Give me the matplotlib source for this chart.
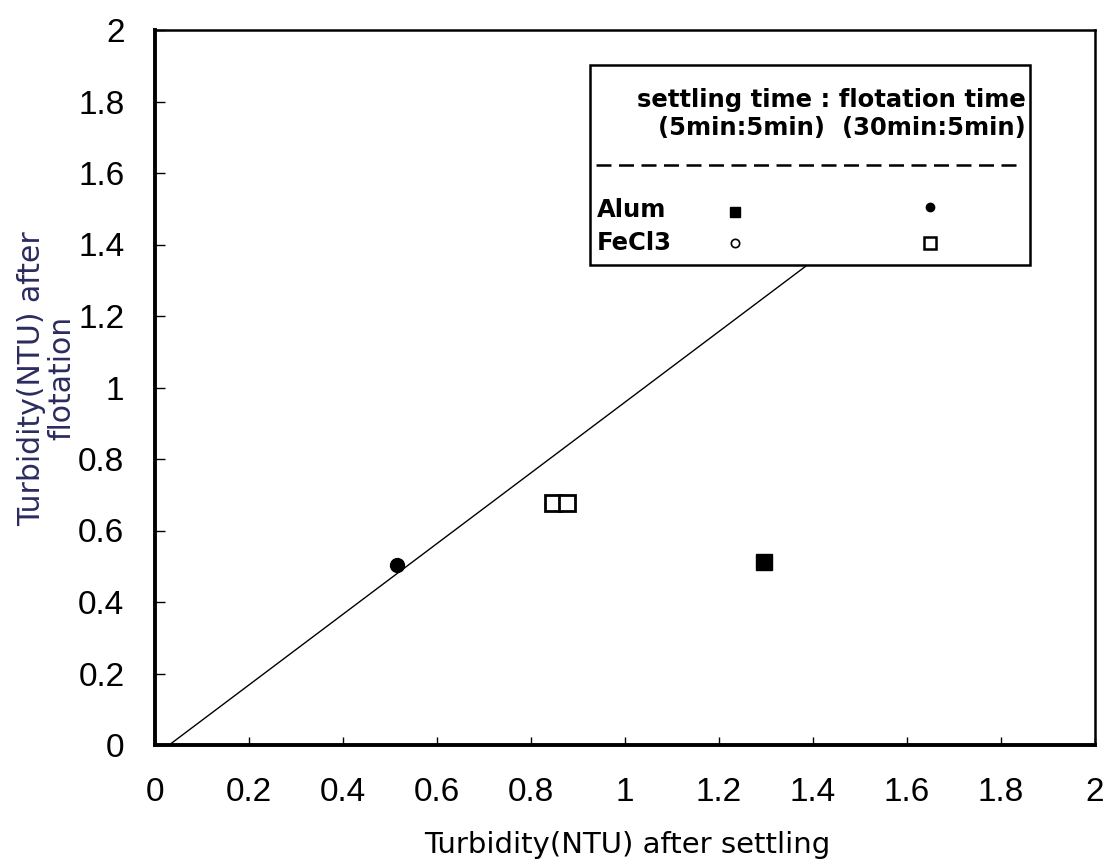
import matplotlib
matplotlib.use("Agg")
import matplotlib.pyplot as plt
from matplotlib.patches import Rectangle

plt.rcParams['font.family'] = ['Liberation Sans', 'DejaVu Sans']

# Data
alum_5_5_x = [1.296]
alum_5_5_y = [0.512]
alum_30_5_x = [0.515]
alum_30_5_y = [0.503]
fecl3_30_5_x = [0.847, 0.877]
fecl3_30_5_y = [0.677, 0.677]
line_x = [0.03, 1.80]
line_y = [0.00, 1.75]
ticks = [0, 0.2, 0.4, 0.6, 0.8, 1, 1.2, 1.4, 1.6, 1.8, 2]
tick_labels = ['0', '0.2', '0.4', '0.6', '0.8', '1', '1.2', '1.4', '1.6', '1.8', '2']

fig = plt.figure(figsize=(11.08, 8.61), dpi=100)
ax = fig.add_axes([155/1108, 1-745/861, 940/1108, 715/861])

ax.plot(line_x, line_y, color='black', lw=1.0, zorder=2)
ax.plot(alum_5_5_x, alum_5_5_y, 's', color='black', ms=11, zorder=3)
ax.plot(alum_30_5_x, alum_30_5_y, 'o', color='black', ms=10, zorder=3)
ax.plot(fecl3_30_5_x, fecl3_30_5_y, 's', mfc='white', mec='black', mew=2, ms=11, zorder=3)

ax.set_xlim(0, 2)
ax.set_ylim(0, 2)
ax.set_xticks(ticks)
ax.set_xticklabels(tick_labels)
ax.set_yticks(ticks)
ax.set_yticklabels(tick_labels)
ax.tick_params(axis='x', direction='in', length=6, width=1, pad=23, labelsize=24)
ax.tick_params(axis='y', direction='in', length=7, width=1, pad=22, labelsize=24)
for s in ['left', 'bottom']:
    ax.spines[s].set_linewidth(2.8)
for s in ['top', 'right']:
    ax.spines[s].set_linewidth(1.8)

ax.set_xlabel('Turbidity(NTU) after settling', fontsize=21, family='DejaVu Sans')
ax.xaxis.set_label_coords(0.502, -0.120)
ax.set_ylabel('Turbidity(NTU) after\nflotation', fontsize=21.5, family='DejaVu Sans',
              color='#2b2b5e', linespacing=1.05, va='center')
ax.yaxis.set_label_coords(-0.115, 0.513)

# Legend box (manual)
tr = ax.transAxes
lfont = dict(family='DejaVu Sans', weight='bold', fontsize=17.5)
ax.add_patch(Rectangle((0.463, 0.671), 0.468, 0.280, transform=tr, facecolor='white',
                       edgecolor='black', lw=1.8, zorder=5))
ax.text(0.926, 0.902, 'settling time : flotation time', transform=tr, ha='right',
        va='center', zorder=6, **lfont)
ax.text(0.926, 0.863, '(5min:5min)  (30min:5min)', transform=tr, ha='right',
        va='center', zorder=6, **lfont)
ax.plot([0.469, 0.920], [0.811, 0.811], transform=tr, color='black', lw=1.8,
        ls=(0, (6, 3)), zorder=6)
ax.text(0.470, 0.748, 'Alum', transform=tr, ha='left', va='center', zorder=6, **lfont)
ax.text(0.470, 0.702, 'FeCl3', transform=tr, ha='left', va='center', zorder=6, **lfont)
ax.plot([0.617], [0.746], 's', transform=tr, color='black', ms=7, zorder=6)
ax.plot([0.824], [0.752], 'o', transform=tr, color='black', ms=6, zorder=6)
ax.plot([0.617], [0.702], 'o', transform=tr, mfc='white', mec='black', mew=1.2, ms=6, zorder=6)
ax.plot([0.824], [0.702], 's', transform=tr, mfc='white', mec='black', mew=1.8, ms=8, zorder=6)

fig.savefig('out.png', dpi=100)
